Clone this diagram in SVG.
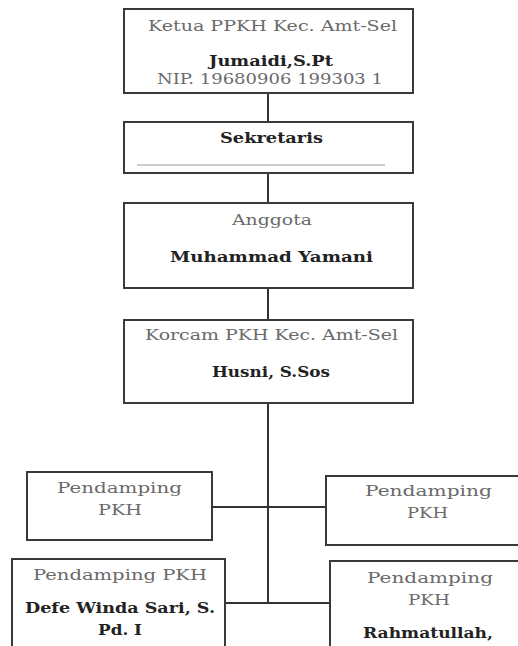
<svg xmlns="http://www.w3.org/2000/svg" width="518" height="646" viewBox="0 0 518 646">
<style>
.box{fill:#fff;stroke:#3a3a3a;stroke-width:2}
.ln{stroke:#333;stroke-width:2;fill:none}
.g{font-family:"DejaVu Serif","Liberation Serif",serif;font-size:15.5px;fill:#6a6a6a}
.b{font-family:"DejaVu Serif","Liberation Serif",serif;font-size:15.5px;font-weight:bold;fill:#222}
</style>
<rect width="518" height="646" fill="#fff"/>
<g id="connectors">
<line class="ln" x1="268" y1="93" x2="268" y2="122"/>
<line class="ln" x1="268" y1="173" x2="268" y2="203"/>
<line class="ln" x1="268" y1="288" x2="268" y2="320"/>
<line class="ln" x1="268" y1="403" x2="268" y2="603"/>
<line class="ln" x1="212" y1="507" x2="326" y2="507"/>
<line class="ln" x1="225" y1="603" x2="330" y2="603"/>
</g>
<g id="ketua">
<rect class="box" x="124" y="9" width="289" height="84"/>
<text class="g" x="148" y="31" textLength="249" lengthAdjust="spacingAndGlyphs">Ketua PPKH Kec. Amt-Sel</text>
<text class="b" x="209" y="66" textLength="124" lengthAdjust="spacingAndGlyphs">Jumaidi,S.Pt</text>
<text class="g" x="157" y="84" textLength="226" lengthAdjust="spacingAndGlyphs">NIP. 19680906 199303 1</text>
</g>
<g id="sekretaris">
<rect class="box" x="124" y="122" width="289" height="51"/>
<text class="b" x="220" y="143" textLength="103" lengthAdjust="spacingAndGlyphs">Sekretaris</text>
<line x1="137" y1="165" x2="385" y2="165" stroke="#999" stroke-width="1"/>
</g>
<g id="anggota">
<rect class="box" x="124" y="203" width="289" height="85"/>
<text class="g" x="232" y="225" textLength="80" lengthAdjust="spacingAndGlyphs">Anggota</text>
<text class="b" x="170" y="262" textLength="203" lengthAdjust="spacingAndGlyphs">Muhammad Yamani</text>
</g>
<g id="korcam">
<rect class="box" x="124" y="320" width="289" height="83"/>
<text class="g" x="145" y="340" textLength="253" lengthAdjust="spacingAndGlyphs">Korcam PKH Kec. Amt-Sel</text>
<text class="b" x="212" y="377" textLength="118" lengthAdjust="spacingAndGlyphs">Husni, S.Sos</text>
</g>
<g id="pendamping1">
<rect class="box" x="27" y="472" width="185" height="68"/>
<text class="g" x="57" y="493" textLength="125" lengthAdjust="spacingAndGlyphs">Pendamping</text>
<text class="g" x="98" y="515" textLength="44" lengthAdjust="spacingAndGlyphs">PKH</text>
</g>
<g id="pendamping2">
<rect class="box" x="326" y="476" width="210" height="69"/>
<text class="g" x="365" y="496" textLength="127" lengthAdjust="spacingAndGlyphs">Pendamping</text>
<text class="g" x="407" y="518" textLength="41" lengthAdjust="spacingAndGlyphs">PKH</text>
</g>
<g id="pendamping3">
<rect class="box" x="12" y="559" width="213" height="100"/>
<text class="g" x="33" y="580" textLength="174" lengthAdjust="spacingAndGlyphs">Pendamping PKH</text>
<text class="b" x="25" y="613" textLength="190" lengthAdjust="spacingAndGlyphs">Defe Winda Sari, S.</text>
<text class="b" x="98" y="635" textLength="44" lengthAdjust="spacingAndGlyphs">Pd. I</text>
</g>
<g id="pendamping4">
<rect class="box" x="330" y="561" width="210" height="100"/>
<text class="g" x="367" y="583" textLength="126" lengthAdjust="spacingAndGlyphs">Pendamping</text>
<text class="g" x="408" y="605" textLength="42" lengthAdjust="spacingAndGlyphs">PKH</text>
<text class="b" x="363" y="638" textLength="130" lengthAdjust="spacingAndGlyphs">Rahmatullah,</text>
</g>
</svg>
